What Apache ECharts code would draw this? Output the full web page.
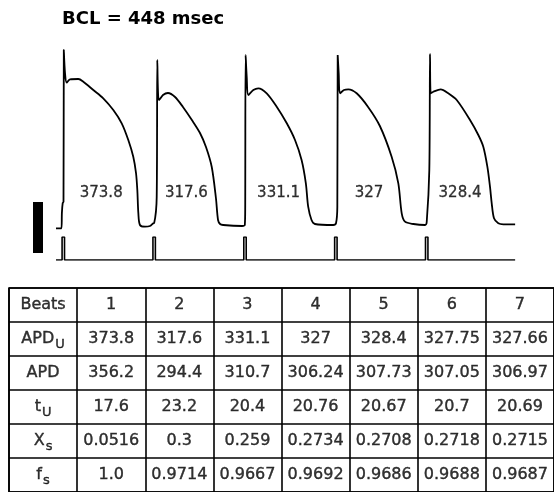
<!DOCTYPE html>
<html>
<head>
<meta charset="utf-8">
<script src="https://cdn.jsdelivr.net/npm/echarts@6/dist/echarts.min.js"></script>
<style>
html, body { margin: 0; padding: 0; background: #fff; }
#main { width: 554px; height: 492px; }
</style>
</head>
<body>
<div id="main"></div>
<script>
// 刺激时刻 (ms), BCL = 448
var stimTimes = [0, 448, 896, 1344, 1792];

// 每拍动作电位 [刺激后 ms, mV]
var beat1 = [[-36, -86.6], [-9, -86.6], [-7, -76], [-3, -69], [1, -68], [2.5, 38.2], [8.4, 22.1], [16.8, 15.3],
  [33, 17.7], [74, 17.9], [98.6, 16], [148, 10.2], [197, 4.4], [246.6, -3.8], [288, -13.1], [320.5, -24.8],
  [345, -36.5], [358.5, -47.9], [365, -59.8], [370, -75.9], [378, -84.3], [403, -85.5], [427.5, -85], [443.8, -83.1]];
var beat2 = [[0, -83], [12.6, -64.5], [15.5, 31.2], [19, 8.8], [24, 3.2], [43.6, 6.7], [68, 8.1], [103, 5.3],
  [142, -1.7], [186, -10.8], [226, -19.9], [255.6, -29.7], [284, -43.7], [304.6, -65.4], [315, -80.8],
  [325, -83.6], [340, -84.3], [433.6, -85]];
var beat3 = [[-1, -84.3], [1, -72], [3, 34.7], [8.4, 19.5], [16.3, 6.7], [41, 10.2], [65.6, 11.4], [107, 7.9],
  [156.3, -1.5], [206, -13.1], [246.5, -24.8], [279, -38.8], [300, -55.1], [311.5, -71.5], [328, -80.8],
  [344.6, -83.6], [435, -84.3]];
var beat4 = [[0.7, -83.1], [7.2, -71.5], [9, 34.7], [14, 21.9], [20.5, 7.9], [40.2, 10.2], [61.4, 10.7],
  [102.5, 7.9], [158, -1.5], [217, -15], [275, -36.5], [308, -55.1], [324.7, -76.1], [341, -82], [382, -83.6],
  [439.8, -84.3]];
var beat5 = [[0, -82.2], [12.8, -45.8], [16.3, 35.4], [19.7, 7.9], [32.7, 9], [69, 10.7], [106.5, 7.9],
  [147.9, 3.2], [213.5, -10.8], [254.5, -21.3], [279, -29.5], [299, -43.5], [312, -57.5], [320.5, -69.1],
  [331.8, -79.6], [353, -83.1], [378, -83.8], [436, -83.8]];

// 表格
var beats = ['1', '2', '3', '4', '5', '6', '7'];
var apdU = ['373.8', '317.6', '331.1', '327', '328.4', '327.75', '327.66'];
var apd = ['356.2', '294.4', '310.7', '306.24', '307.73', '307.05', '306.97'];
var tU = ['17.6', '23.2', '20.4', '20.76', '20.67', '20.7', '20.69'];
var xs = ['0.0516', '0.3', '0.259', '0.2734', '0.2708', '0.2718', '0.2715'];
var fs = ['1.0', '0.9714', '0.9667', '0.9692', '0.9686', '0.9688', '0.9687'];
var rowNames = ['Beats', '{m|APD}{s|U}', 'APD', '{m|t}{s|U}', '{m|X}{s|s}', '{m|f}{s|s}'];

var PULSE_MS = 12;
var LABEL_MV = -62;
var T_START = -36, T_END = 2228;

var traceData = [];
[beat1, beat2, beat3, beat4, beat5].forEach(function(b, k) {
  b.forEach(function(p) {
    traceData.push([stimTimes[k] + p[0], p[1]]);
  });
});

var stimData = [[T_START, 0]];
stimTimes.forEach(function(t) {
  stimData.push([t - PULSE_MS / 2, 0], [t - PULSE_MS / 2, 1], [t + PULSE_MS / 2, 1], [t + PULSE_MS / 2, 0]);
});
stimData.push([T_END, 0]);

// APD 数字标在每拍中间
var apdLabels = stimTimes.map(function(t, k) {
  return [t + parseFloat(apdU[k]) / 2, LABEL_MV, apdU[k]];
});

var rows = [beats, apdU, apd, tU, xs, fs];
var cellData = [];
rows.forEach(function(r, i) {
  cellData.push([0, i, rowNames[i]]);
  r.forEach(function(v, j) {
    cellData.push([j + 1, i, v]);
  });
});

var font = 'DejaVu Sans';
var ink = '#000';
var myChart = echarts.init(document.getElementById('main'));
var option = {
  animation: false,
  title: {
    text: 'BCL = 448 msec',
    left: 62, top: 10, padding: 0,
    textStyle: { fontFamily: font, fontSize: 18, fontWeight: 'bold', color: ink }
  },
  grid: [
    { left: 55.19, width: 462.38, top: 47.43, height: 185.71 },
    { left: 55.19, width: 462.38, top: 237, height: 23 },
    { left: 9, width: 546, top: 288, height: 206.4, show: true, borderColor: ink, borderWidth: 1.6 }
  ],
  xAxis: [
    { gridIndex: 0, type: 'value', min: -40, max: 2240, show: false },
    { gridIndex: 1, type: 'value', min: -40, max: 2240, show: false },
    {
      gridIndex: 2, type: 'category', data: ['', '1', '2', '3', '4', '5', '6', '7'],
      axisLine: { show: false }, axisTick: { show: false }, axisLabel: { show: false },
      splitLine: { show: true, interval: 0, lineStyle: { color: ink, width: 1.6 } }
    }
  ],
  yAxis: [
    { gridIndex: 0, type: 'value', min: -90, max: 40, show: false },
    { gridIndex: 1, type: 'value', min: 0, max: 1, show: false },
    {
      gridIndex: 2, type: 'category', inverse: true, data: ['a', 'b', 'c', 'd', 'e', 'f'],
      axisLine: { show: false }, axisTick: { show: false }, axisLabel: { show: false },
      splitLine: { show: true, interval: 0, lineStyle: { color: ink, width: 1.6 } }
    }
  ],
  graphic: [
    // 定标条
    { type: 'rect', shape: { x: 33, y: 202, width: 10, height: 51 }, style: { fill: ink } }
  ],
  series: [
    {
      type: 'line', xAxisIndex: 0, yAxisIndex: 0, data: traceData,
      showSymbol: false, smooth: 0.3,
      lineStyle: { color: ink, width: 1.8 }
    },
    {
      type: 'line', xAxisIndex: 1, yAxisIndex: 1, data: stimData,
      showSymbol: false, lineStyle: { color: ink, width: 1.6 }
    },
    {
      type: 'scatter', xAxisIndex: 0, yAxisIndex: 0, data: apdLabels,
      symbolSize: 1, itemStyle: { color: 'transparent' },
      label: {
        show: true, position: 'inside', color: ink, fontFamily: font, fontSize: 15,
        textBorderColor: ink, textBorderWidth: 0.3,
        formatter: function(p) { return p.value[2]; }
      }
    },
    {
      type: 'scatter', xAxisIndex: 2, yAxisIndex: 2, data: cellData,
      symbolSize: 1, itemStyle: { color: 'transparent' },
      label: {
        show: true, position: 'inside', color: ink, fontFamily: font, fontSize: 16,
        textBorderColor: ink, textBorderWidth: 0.4,
        formatter: function(p) { return p.value[2]; },
        rich: {
          m: { fontFamily: font, fontSize: 16, color: ink, textBorderColor: ink, textBorderWidth: 0.4, verticalAlign: 'middle' },
          s: { fontFamily: font, fontSize: 13, color: ink, textBorderColor: ink, textBorderWidth: 0.4, verticalAlign: 'top', padding: [11, 0, 0, 1] }
        }
      }
    }
  ]
};
myChart.setOption(option);
</script>
</body>
</html>
